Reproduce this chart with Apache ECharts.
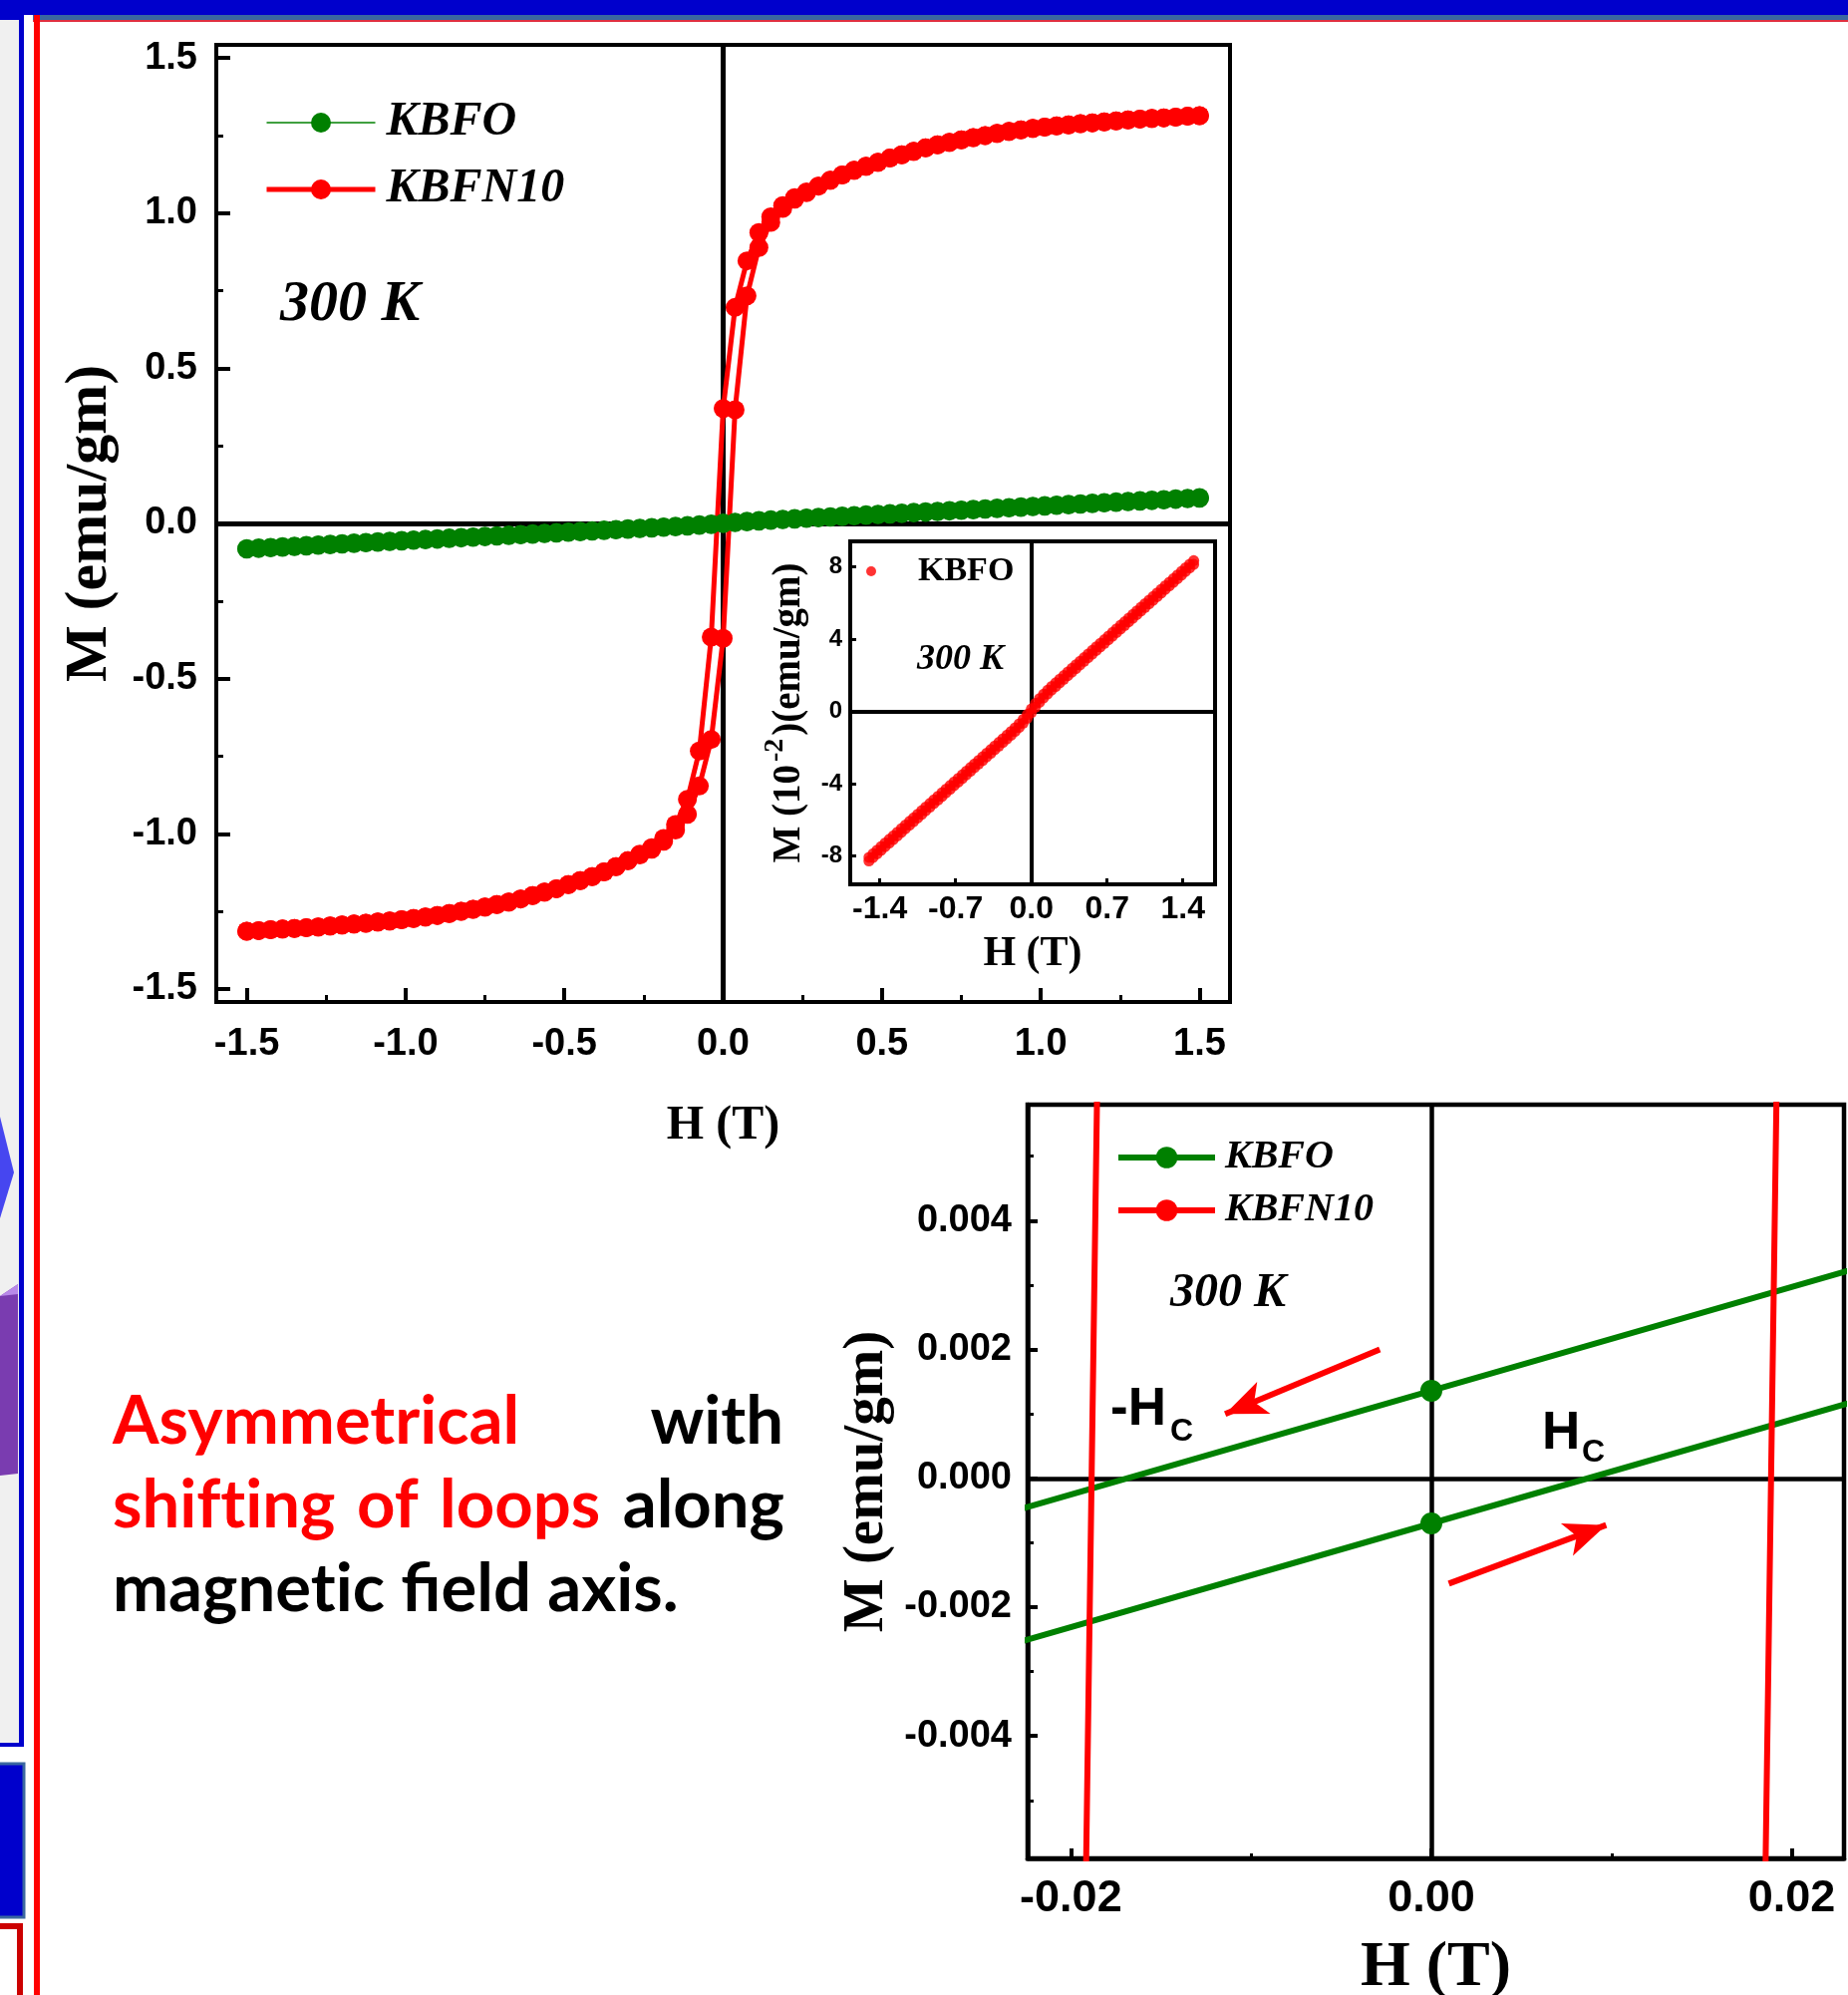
<!DOCTYPE html>
<html><head><meta charset="utf-8">
<script src="https://cdn.jsdelivr.net/npm/echarts@6/dist/echarts.min.js"></script>
<style>html,body{margin:0;padding:0;background:#fff;} #c{width:1854px;height:2001px;}</style>
</head><body><div id="c"></div>
<script>
// ---------------- DATA ----------------
const H_GRID = [-1.5,-1.4625,-1.425,-1.3875,-1.35,-1.3125,-1.275,-1.2375,-1.2,-1.1625,-1.125,-1.0875,-1.05,-1.0125,-0.975,-0.9375,-0.9,-0.8625,-0.825,-0.7875,-0.75,-0.7125,-0.675,-0.6375,-0.6,-0.5625,-0.525,-0.4875,-0.45,-0.4125,-0.375,-0.3375,-0.3,-0.2625,-0.225,-0.1875,-0.15,-0.1125,-0.075,-0.0375,0,0.0375,0.075,0.1125,0.15,0.1875,0.225,0.2625,0.3,0.3375,0.375,0.4125,0.45,0.4875,0.525,0.5625,0.6,0.6375,0.675,0.7125,0.75,0.7875,0.825,0.8625,0.9,0.9375,0.975,1.0125,1.05,1.0875,1.125,1.1625,1.2,1.2375,1.275,1.3125,1.35,1.3875,1.425,1.4625,1.5];
// KBFO (emu/gm), descending-field branch, listed in order of H_GRID
const KBFO_DESC = [-0.08074,-0.07875,-0.07677,-0.07478,-0.07279,-0.07080,-0.06882,-0.06683,-0.06484,-0.06285,-0.06087,-0.05888,-0.05689,-0.05490,-0.05292,-0.05093,-0.04894,-0.04695,-0.04497,-0.04298,-0.04099,-0.03900,-0.03702,-0.03503,-0.03304,-0.03105,-0.02907,-0.02708,-0.02509,-0.02310,-0.02111,-0.01913,-0.01713,-0.01514,-0.01313,-0.01110,-0.00901,-0.00681,-0.00439,-0.00166,0.00136,0.00438,0.00711,0.00953,0.01173,0.01382,0.01585,0.01786,0.01985,0.02185,0.02383,0.02582,0.02781,0.02980,0.03179,0.03377,0.03576,0.03775,0.03974,0.04172,0.04371,0.04570,0.04769,0.04967,0.05166,0.05365,0.05564,0.05762,0.05961,0.06160,0.06359,0.06557,0.06756,0.06955,0.07154,0.07352,0.07551,0.07750,0.07949,0.08147,0.08346];
// KBFO ascending-field branch
const KBFO_ASC = [-0.08280,-0.08081,-0.07883,-0.07684,-0.07485,-0.07286,-0.07088,-0.06889,-0.06690,-0.06491,-0.06293,-0.06094,-0.05895,-0.05696,-0.05498,-0.05299,-0.05100,-0.04901,-0.04703,-0.04504,-0.04305,-0.04106,-0.03908,-0.03709,-0.03510,-0.03311,-0.03113,-0.02914,-0.02715,-0.02516,-0.02317,-0.02119,-0.01919,-0.01720,-0.01519,-0.01316,-0.01107,-0.00887,-0.00645,-0.00372,-0.00070,0.00232,0.00505,0.00747,0.00967,0.01176,0.01379,0.01580,0.01779,0.01979,0.02177,0.02376,0.02575,0.02774,0.02973,0.03171,0.03370,0.03569,0.03768,0.03966,0.04165,0.04364,0.04563,0.04761,0.04960,0.05159,0.05358,0.05556,0.05755,0.05954,0.06153,0.06351,0.06550,0.06749,0.06948,0.07146,0.07345,0.07544,0.07743,0.07941,0.08140];
// KBFN10 descending-field branch
const KBFN10_DESC = [-1.314,-1.312,-1.309,-1.307,-1.305,-1.303,-1.300,-1.297,-1.294,-1.291,-1.288,-1.284,-1.281,-1.277,-1.273,-1.268,-1.263,-1.257,-1.250,-1.243,-1.236,-1.228,-1.220,-1.210,-1.199,-1.188,-1.177,-1.164,-1.151,-1.138,-1.123,-1.106,-1.087,-1.066,-1.045,-1.015,-0.970,-0.889,-0.733,-0.366,0.370,0.696,0.846,0.937,0.988,1.024,1.050,1.068,1.087,1.106,1.123,1.138,1.151,1.164,1.177,1.188,1.199,1.210,1.220,1.228,1.236,1.243,1.250,1.257,1.263,1.268,1.273,1.277,1.281,1.284,1.288,1.291,1.294,1.297,1.300,1.303,1.305,1.307,1.309,1.312,1.314];
// KBFN10 ascending-field branch
const KBFN10_ASC = [-1.314,-1.312,-1.309,-1.307,-1.305,-1.303,-1.300,-1.297,-1.294,-1.291,-1.288,-1.284,-1.281,-1.277,-1.273,-1.268,-1.263,-1.257,-1.250,-1.243,-1.236,-1.228,-1.220,-1.210,-1.199,-1.188,-1.177,-1.164,-1.151,-1.138,-1.123,-1.106,-1.087,-1.068,-1.050,-1.024,-0.988,-0.937,-0.846,-0.696,-0.370,0.366,0.733,0.889,0.970,1.015,1.045,1.066,1.087,1.106,1.123,1.138,1.151,1.164,1.177,1.188,1.199,1.210,1.220,1.228,1.236,1.243,1.250,1.257,1.263,1.268,1.273,1.277,1.281,1.284,1.288,1.291,1.294,1.297,1.300,1.303,1.305,1.307,1.309,1.312,1.314];

const MAIN_TICKS = [-1.5,-1,-0.5,0,0.5,1,1.5];
const MAIN_MINOR = [-1.25,-0.75,-0.25,0.25,0.75,1.25];
const INSET_X_TICKS = [-1.4,-0.7,0,0.7,1.4];
const INSET_Y_TICKS = [-8,-4,0,4,8];
const ZOOM_X_TICKS = [-0.02,0,0.02];
const ZOOM_X_MINOR = [-0.01,0.01];
const ZOOM_Y_TICKS = [-0.004,-0.002,0,0.002,0.004];
const ZOOM_Y_MINOR = [-0.005,-0.003,-0.001,0.001,0.003,0.005];
// arrow annotations in the zoomed panel: [from [H,M], to [H,M]]
const ARROWS = [[[-0.00286,0.00200],[-0.01144,0.000998]],[[0.00097,-0.001634],[0.00970,-0.000726]]];

// --------------- helpers ---------------
const SANS = 'Liberation Sans', SERIF = 'Liberation Serif';
const GREEN = '#008000', RED = '#ff0000', BLACK = '#000';
function pairs(ms, k) { k = k || 1; return H_GRID.map((h, i) => [h, ms[i] * k]); }
function descending(ms, k) { return pairs(ms, k).reverse(); }

function axisBase(grid, min, max) {
  return { type: 'value', gridIndex: grid, min: min, max: max, splitLine: { show: false } };
}
function major(grid, min, max, pos, ticks, fmt, o) {
  return Object.assign(axisBase(grid, min, max), {
    position: pos,
    axisLine: { show: true, onZero: false, lineStyle: { color: BLACK, width: o.lw } },
    axisTick: { show: true, inside: true, length: o.tl, lineStyle: { color: BLACK, width: o.tw }, customValues: ticks },
    axisLabel: { show: true, customValues: ticks, formatter: fmt, fontFamily: SANS, fontWeight: 'bold',
      fontSize: o.fs, color: BLACK, margin: o.margin },
    name: o.name, nameLocation: 'middle', nameGap: o.gap,
    nameTextStyle: Object.assign({ fontFamily: SERIF, fontWeight: 'bold', fontSize: o.nfs, color: BLACK }, o.nts || {})
  });
}
function minor(grid, min, max, pos, ticks, len, w) {
  return Object.assign(axisBase(grid, min, max), {
    position: pos,
    axisLine: { show: false, onZero: false },
    axisTick: { show: true, inside: true, length: len, lineStyle: { color: BLACK, width: w }, customValues: ticks },
    axisLabel: { show: false }
  });
}
function zeroLines(w) {
  return { silent: true, z: 1, symbol: ['none', 'none'], label: { show: false },
    lineStyle: { color: BLACK, width: w, type: 'solid' }, emphasis: { disabled: true },
    data: [{ xAxis: 0 }, { yAxis: 0 }] };
}

const xAxis = [
  major(0, -1.596, 1.596, 'bottom', MAIN_TICKS, v => v.toFixed(1),
    { lw: 4, tl: 14, tw: 4, fs: 38, margin: 24, name: 'H (T)', gap: 101, nfs: 48 }),
  minor(0, -1.596, 1.596, 'bottom', MAIN_MINOR, 7, 3),
  major(1, -1.673, 1.697, 'bottom', INSET_X_TICKS, v => v.toFixed(1),
    { lw: 4, tl: 6, tw: 3, fs: 32, margin: 9, name: 'H (T)', gap: 49, nfs: 42 }),
  major(2, -0.0224, 0.0229, 'bottom', ZOOM_X_TICKS, v => v.toFixed(2),
    { lw: 4.5, tl: 10, tw: 4, fs: 45, margin: 18, name: 'H (T)', gap: 78, nfs: 64 }),
  minor(2, -0.0224, 0.0229, 'bottom', ZOOM_X_MINOR, 5, 3)
];
const yAxis = [
  major(0, -1.542, 1.542, 'left', MAIN_TICKS, v => v.toFixed(1),
    { lw: 4, tl: 14, tw: 4, fs: 38, margin: 19, name: 'M (emu/gm)', gap: 97, nfs: 60 }),
  minor(0, -1.542, 1.542, 'left', MAIN_MINOR, 7, 3),
  major(1, -9.57, 9.41, 'left', INSET_Y_TICKS, v => String(v),
    { lw: 4, tl: 6, tw: 3, fs: 24, margin: 8, name: 'M (10{sup|-2})(emu/gm)', gap: 33, nfs: 39,
      nts: { rich: { sup: { fontFamily: SERIF, fontWeight: 'bold', fontSize: 28, color: BLACK, padding: [0, 3, 28, 3] } } } }),
  major(2, -0.0059, 0.0058, 'left', ZOOM_Y_TICKS, v => v.toFixed(3),
    { lw: 4.5, tl: 10, tw: 4, fs: 38, margin: 16, name: 'M (emu/gm)', gap: 132, nfs: 57 }),
  minor(2, -0.0059, 0.0058, 'left', ZOOM_Y_MINOR, 6, 3)
];

function lineSeries(name, data, xi, yi, color, lw, sym, extra) {
  return Object.assign({
    type: 'line', name: name, xAxisIndex: xi, yAxisIndex: yi, data: data,
    symbol: 'circle', symbolSize: sym, showSymbol: true, clip: true,
    lineStyle: { color: color, width: lw }, itemStyle: { color: color },
    emphasis: { disabled: true }, animation: false, z: 2
  }, extra || {});
}

const series = [
  // main panel
  lineSeries('KBFO', descending(KBFO_DESC), 0, 0, GREEN, 2, 19, { markLine: zeroLines(5) }),
  lineSeries('KBFO', pairs(KBFO_ASC), 0, 0, GREEN, 2, 19),
  lineSeries('KBFN10', descending(KBFN10_DESC), 0, 0, RED, 5, 19),
  lineSeries('KBFN10', pairs(KBFN10_ASC), 0, 0, RED, 5, 19),
  // inset
  { type: 'scatter', name: 'KBFO inset', xAxisIndex: 2, yAxisIndex: 2,
    data: pairs(KBFO_DESC, 100).concat(pairs(KBFO_ASC, 100)),
    symbol: 'circle', symbolSize: 11, itemStyle: { color: RED }, clip: true,
    emphasis: { disabled: true }, animation: false, markLine: zeroLines(4) },
  // zoomed panel
  lineSeries('KBFO', descending(KBFO_DESC), 3, 3, GREEN, 6, 22, { markLine: zeroLines(4.5) }),
  lineSeries('KBFO', pairs(KBFO_ASC), 3, 3, GREEN, 6, 22),
  lineSeries('KBFN10', descending(KBFN10_DESC), 3, 3, RED, 6, 22),
  lineSeries('KBFN10', pairs(KBFN10_ASC), 3, 3, RED, 6, 22, {
    markLine: { silent: true, z: 6, symbol: ['none', 'arrow'], symbolSize: [26, 42], label: { show: false },
      lineStyle: { color: RED, width: 6, type: 'solid' }, itemStyle: { color: RED }, emphasis: { disabled: true },
      data: ARROWS.map(a => [{ coord: a[0] }, { coord: a[1] }]) }
  })
];

const legendText = (size, italic) => ({ fontFamily: SERIF, fontWeight: 'bold', fontStyle: italic ? 'italic' : 'normal',
  fontSize: size, lineHeight: size, color: BLACK });

const legend = [
  { data: [{ name: 'KBFO', lineStyle: { width: 1.5 } }, { name: 'KBFN10', lineStyle: { width: 5 } }],
    orient: 'vertical', left: 265, top: 99, itemWidth: 109, itemHeight: 25, itemGap: 19, padding: 0,
    selectedMode: false, textStyle: Object.assign(legendText(48, true), { padding: [0, 0, 0, 6] }) },
  { data: [{ name: 'KBFO inset' }], formatter: () => 'KBFO', orient: 'vertical',
    left: 869, top: 556, itemWidth: 10, itemHeight: 10, padding: 0, selectedMode: false,
    textStyle: Object.assign(legendText(34, false), { padding: [0, 0, 0, 37] }) },
  { data: [{ name: 'KBFO', lineStyle: { width: 6 } }, { name: 'KBFN10', lineStyle: { width: 6 } }],
    orient: 'vertical', left: 1119, top: 1141, itemWidth: 97, itemHeight: 27, itemGap: 13, padding: 0,
    selectedMode: false, textStyle: Object.assign(legendText(40, true), { padding: [0, 0, 0, 5] }) }
];

const grid = [
  { left: 217, top: 45, width: 1017, height: 960, show: true, backgroundColor: 'rgba(0,0,0,0)', borderColor: BLACK, borderWidth: 4, outerBoundsMode: 'none' },
  { left: 853, top: 543, width: 366, height: 344, show: true, backgroundColor: '#fff', borderColor: BLACK, borderWidth: 4, outerBoundsMode: 'none' },
  { left: 1031, top: 1108, width: 819, height: 756, show: true, backgroundColor: 'rgba(0,0,0,0)', borderColor: BLACK, borderWidth: 4.5, outerBoundsMode: 'none' }
];

function txt(t, x, y, font, fill, align) {
  return { type: 'text', x: x, y: y, z: 50, silent: true,
    style: { text: t, font: font, fill: fill, align: align || 'left', verticalAlign: 'middle' } };
}
const PARA = 'bold 67px Lato';
const ZW = '\u200C';
const graphic = [
  // slide decorations
  { type: 'rect', z: 0, silent: true, shape: { x: 0, y: 0, width: 1854, height: 15 }, style: { fill: '#0000cc' } },
  { type: 'rect', z: 0, silent: true, shape: { x: 33, y: 15, width: 1821, height: 5 }, style: { fill: '#3a67a0' } },
  { type: 'rect', z: 0, silent: true, shape: { x: 33, y: 20, width: 1821, height: 2 }, style: { fill: '#e03040' } },
  { type: 'rect', z: 0, silent: true, shape: { x: 0, y: 0, width: 24, height: 20 }, style: { fill: '#0000cc' } },
  { type: 'rect', z: 0, silent: true, shape: { x: 0, y: 20, width: 19, height: 1730 }, style: { fill: '#f0f0f0' } },
  { type: 'rect', z: 0, silent: true, shape: { x: 19, y: 15, width: 5, height: 1737 }, style: { fill: '#0000cc' } },
  { type: 'rect', z: 0, silent: true, shape: { x: 0, y: 1748, width: 24, height: 4 }, style: { fill: '#0000cc' } },
  { type: 'rect', z: 0, silent: true, shape: { x: 34, y: 15, width: 6, height: 1986 }, style: { fill: '#ff0000' } },
  { type: 'polygon', z: 0, silent: true, shape: { points: [[0, 1120], [14, 1176], [0, 1222]] }, style: { fill: '#4646f0' } },
  { type: 'polygon', z: 0, silent: true, shape: { points: [[0, 1300], [18, 1288], [18, 1478], [0, 1480]] }, style: { fill: '#7a3cb0' } },
  { type: 'polygon', z: 0, silent: true, shape: { points: [[0, 1300], [18, 1288], [18, 1298]] }, style: { fill: '#b888e8' } },
  { type: 'rect', z: 0, silent: true, shape: { x: -4, y: 1769, width: 28, height: 154 }, style: { fill: '#0000cc', stroke: '#3a67a0', lineWidth: 3 } },
  { type: 'rect', z: 0, silent: true, shape: { x: -10, y: 1932, width: 30, height: 100 }, style: { fill: '#fff', stroke: '#cc0000', lineWidth: 6 } },
  // panel annotations
  txt('300 K', 281, 306, 'italic bold 58px "Liberation Serif"', BLACK),
  txt('300 K', 920, 662, 'italic bold 36px "Liberation Serif"', BLACK),
  txt('300 K', 1174, 1298, 'italic bold 48px "Liberation Serif"', BLACK),
  txt('-H', 1114, 1414, 'bold 53px "Liberation Sans"', BLACK),
  txt('C', 1174, 1436, 'bold 32px "Liberation Sans"', BLACK),
  txt('H', 1547, 1438, 'bold 53px "Liberation Sans"', BLACK),
  txt('C', 1587, 1457, 'bold 32px "Liberation Sans"', BLACK),
  // left statement
  txt('Asymmetrical', 113, 1426, PARA, RED),
  txt('with', 786, 1426, PARA, BLACK, 'right'),
  txt('shif' + ZW + 't' + ZW + 'ing', 113, 1510, PARA, RED),
  txt('of', 358, 1510, PARA, RED),
  txt('loops', 441, 1510, PARA, RED),
  txt('along', 787, 1510, PARA, BLACK, 'right'),
  txt('magnet' + ZW + 'ic fi' + ZW + 'eld axis.', 113, 1594, PARA, BLACK)
];

const chart = echarts.init(document.getElementById('c'), null, { renderer: 'canvas', width: 1854, height: 2001 });
chart.setOption({
  backgroundColor: '#fff',
  animation: false,
  textStyle: { fontFamily: SANS },
  grid: grid, xAxis: xAxis, yAxis: yAxis, series: series, legend: legend, graphic: graphic
});
</script>
</body></html>
